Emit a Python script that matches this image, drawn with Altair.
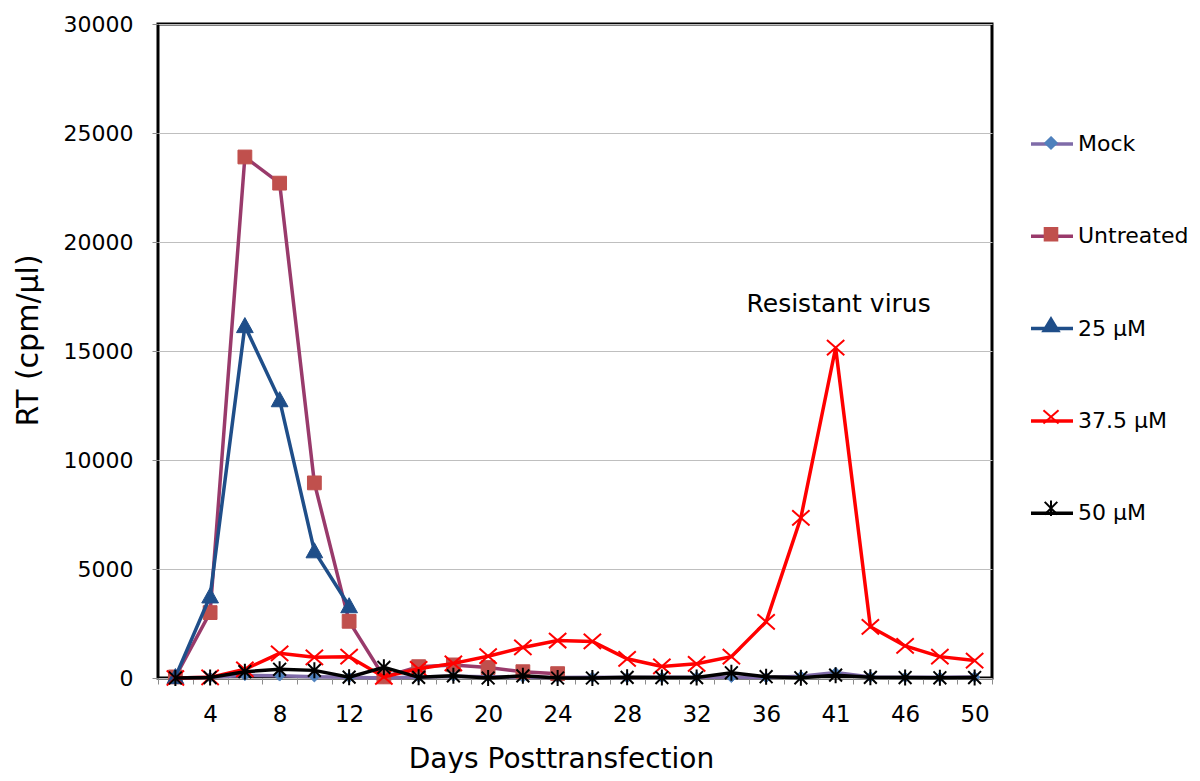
import altair as alt
import pandas as pd

# ---------------- data ----------------
DAYS = ["2", "4", "6", "8", "10", "12", "14", "16", "18", "20", "22", "24",
        "26", "28", "30", "32", "34", "36", "38", "41", "43", "46", "48", "50"]
SHOWN_DAYS = ["4", "8", "12", "16", "20", "24", "28", "32", "36", "41", "46", "50"]

SERIES = ["Mock", "Untreated", "25 µM", "37.5 µM", "50 µM"]

MOCK = [0, 30, 120, 100, 60, 30, 0, 50, 80, 60, 40, 20,
        30, 20, 30, 40, 30, 20, 80, 250, 50, 30, 30, 50]
UNTREATED = [50, 3000, 23900, 22700, 8950, 2600, 50, 520, 600, 480, 290, 200]
UM25 = [50, 3750, 16150, 12750, 5820, 3300]
UM375 = [0, 30, 400, 1130, 950, 980, 50, 420, 670, 1000, 1400, 1720,
         1680, 880, 530, 650, 980, 2580, 7350, 15150, 2350, 1470, 980, 800]
UM50 = [0, 20, 290, 400, 350, 40, 490, 30, 100, 0, 100, 0,
        0, 30, 20, 20, 240, 60, 10, 130, 30, 20, 10, 20]

VALUES = [MOCK, UNTREATED, UM25, UM375, UM50]

ANNOT_TEXT = ["Resistant virus"]
ANNOT_IDX = [19]
ANNOT_VALUE = [16800]

# ---------------- styles ----------------
LINE_COLORS = ["#7f6ba8", "#993a6b", "#1f4e89", "#ff0000", "#000000"]
MARKER_COLORS = ["#4f81bd", "#c0504d", "#1f4e89", "#ff0000", "#000000"]

DIAMOND = "M0,-1L1,0L0,1L-1,0Z"
SQUARE = "M-1,-1H1V1H-1Z"
TRIANGLE = "M0,-1L1,0.8H-1Z"
XCROSS = "M-1,-0.88L1,0.88M-1,0.88L1,-0.88"
ASTER = "M-0.8,-0.8L0.8,0.8M-0.8,0.8L0.8,-0.8M0,-1V1"
MARKER_PATHS = [DIAMOND, SQUARE, TRIANGLE, XCROSS, ASTER]
MARKER_SIZES = [110, 190, 280, 300, 256]
MARKER_FILLED = [True, True, True, False, False]
MARKER_SW = [1, 1, 1, 2, 2]

LEG_LINE = "M-1,0H1"
LEG_MARKERS = [
    "M0,-0.27L0.27,0L0,0.27L-0.27,0Z",
    "M-0.3,-0.3H0.3V0.3H-0.3Z",
    "M0,-0.36L0.38,0.27H-0.38Z",
    "M-0.36,-0.32L0.36,0.32M-0.36,0.32L0.36,-0.32",
    "M-0.3,-0.3L0.3,0.3M-0.3,0.3L0.3,-0.3M0,-0.37V0.37",
]
MK_KEYS = ["k_" + s for s in SERIES]

FONT = "DejaVu Sans"

rows = []
for s, vals in zip(SERIES, VALUES):
    for i, v in enumerate(vals):
        rows.append({"idx": i, "day": DAYS[i], "series": s, "value": v})
df = pd.DataFrame(rows)

annot_df = pd.DataFrame({"idx": ANNOT_IDX, "value": ANNOT_VALUE, "text": ANNOT_TEXT})
leg_df = pd.DataFrame({"series": SERIES, "mk": MK_KEYS})

N = len(DAYS)
day_arr = "[" + ",".join("'" + d + "'" for d in DAYS) + "]"
shown_arr = "[" + ",".join("'" + d + "'" for d in SHOWN_DAYS) + "]"
label_expr = (
    f"datum.value >= 0 && datum.value < {N - 1} && "
    f"indexof({shown_arr}, {day_arr}[datum.value + 0.5]) >= 0 "
    f"? {day_arr}[datum.value + 0.5] : ''"
)

W, H = 834, 654

x_enc = alt.X(
    "idx:Q",
    scale=alt.Scale(domain=[-0.5, N - 0.5], nice=False, zero=False),
    axis=alt.Axis(
        values=[i - 0.5 for i in range(N + 1)],
        labelExpr=label_expr,
        labelOffset=W / N / 2,
        labelOverlap=False,
        labelFlush=False,
        grid=False,
        domain=False,
        tickSize=6,
        tickColor="#8c8c8c",
        tickWidth=1,
        labelFont=FONT,
        labelFontSize=23,
        labelColor="black",
        labelPadding=19,
        title="Days Posttransfection",
        titleFont=FONT,
        titleFontSize=28,
        titleFontWeight="normal",
        titleColor="black",
        titleBaseline="alphabetic",
        titleX=403,
        titleY=89,
    ),
)
y_enc = alt.Y(
    "value:Q",
    scale=alt.Scale(domain=[0, 30000], nice=False),
    axis=alt.Axis(
        values=[0, 5000, 10000, 15000, 20000, 25000, 30000],
        format="d",
        grid=True,
        gridColor="#bfbfbf",
        gridWidth=1,
        domain=False,
        tickSize=6,
        tickColor="#8c8c8c",
        labelFont=FONT,
        labelFontSize=22,
        labelColor="black",
        labelPadding=19,
        title="RT (cpm/µl)",
        titleFont=FONT,
        titleFontSize=30,
        titleFontWeight="normal",
        titleColor="black",
        titleAlign="center",
        titleBaseline="middle",
        titleX=-130,
        titleY=316,
    ),
)

layers = []
base = alt.Chart(df)
for i, s in enumerate(SERIES):
    sub = base.transform_filter(alt.datum.series == s)
    layers.append(
        sub.mark_line(color=LINE_COLORS[i], strokeWidth=3.5).encode(x=x_enc, y=y_enc)
    )
    if MARKER_FILLED[i]:
        pm = sub.mark_point(shape=MARKER_PATHS[i], size=MARKER_SIZES[i], filled=True,
                            fill=MARKER_COLORS[i], stroke=MARKER_COLORS[i],
                            strokeWidth=MARKER_SW[i], opacity=1)
    else:
        pm = sub.mark_point(shape=MARKER_PATHS[i], size=MARKER_SIZES[i], filled=False,
                            stroke=MARKER_COLORS[i], strokeWidth=MARKER_SW[i], opacity=1)
    layers.append(pm.encode(x=x_enc, y=y_enc))

annot = alt.Chart(annot_df).mark_text(
    font=FONT, fontSize=25, color="black", align="center", baseline="alphabetic", dx=3
).encode(x=x_enc, y=y_enc, text="text:N")
layers.append(annot)

leg_common = dict(
    orient="none", legendX=871, legendY=97, direction="vertical",
    padding=0, offset=0, rowPadding=58.3, symbolSize=1764,
    labelOffset=3, labelFont=FONT, labelFontSize=22, labelColor="black",
    labelLimit=300, title=None,
)
legA = alt.Legend(symbolStrokeWidth=3.5, **leg_common)
legB = alt.Legend(symbolStrokeWidth=2, labelExpr="''", **leg_common)

leg_lines = alt.Chart(leg_df).transform_filter("false").mark_point(
    filled=False, opacity=1, strokeWidth=3.5
).encode(
    stroke=alt.Stroke("series:N", scale=alt.Scale(domain=SERIES, range=LINE_COLORS), legend=legA),
    shape=alt.Shape("series:N", scale=alt.Scale(domain=SERIES, range=[LEG_LINE] * len(SERIES)), legend=legA),
)
leg_marks = alt.Chart(leg_df).transform_filter("false").mark_point(
    filled=True, opacity=1, strokeWidth=2
).encode(
    fill=alt.Fill("mk:N", scale=alt.Scale(domain=MK_KEYS, range=MARKER_COLORS), legend=legB),
    stroke=alt.Stroke("mk:N", scale=alt.Scale(domain=MK_KEYS, range=MARKER_COLORS), legend=legB),
    shape=alt.Shape("mk:N", scale=alt.Scale(domain=MK_KEYS, range=LEG_MARKERS), legend=legB),
)
layers += [leg_lines, leg_marks]

chart = alt.layer(*layers).resolve_scale(
    shape="independent", fill="independent", stroke="independent"
).properties(
    width=W, height=H,
    autosize=alt.AutoSizeParams(type="none"),
    padding={"left": 150, "top": 16, "right": 200, "bottom": 95},
    background="white",
).configure_view(stroke="black", strokeWidth=3)

chart.save("out.html", embed_options={"renderer": "svg", "actions": False})
